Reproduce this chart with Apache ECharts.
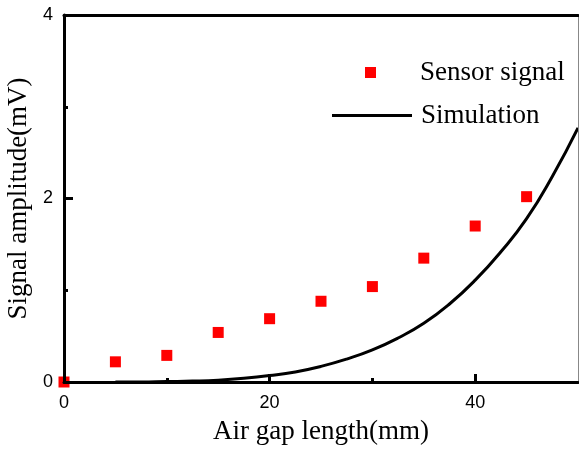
<!DOCTYPE html>
<html>
<head>
<meta charset="utf-8">
<script src="https://cdn.jsdelivr.net/npm/echarts@6/dist/echarts.min.js"></script>
<style>html,body{margin:0;padding:0;background:#fff}#c{width:579px;height:449px}</style>
</head>
<body>
<div id="c"></div>
<script>
var sensorX = [0, 5, 10, 15, 20, 25, 30, 35, 40, 45];
var sensorY = [0.0, 0.22, 0.29, 0.54, 0.69, 0.88, 1.04, 1.35, 1.70, 2.02];
var simX = [5, 7.5, 10, 12.5, 15, 17.5, 20, 22.5, 25, 27.5, 30, 32.5, 35, 37.5, 40, 42.5, 45, 47.5, 50];
var simY = [0.0, 0.0, 0.005, 0.01, 0.02, 0.04, 0.07, 0.11, 0.17, 0.25, 0.35, 0.48, 0.64, 0.85, 1.11, 1.42, 1.78, 2.24, 2.77];
var xMajorTicks = [0, 20, 40];
var xMinorTicks = [10, 30];

var serif = '"Liberation Serif", "Times New Roman", serif';
var sans = '"Liberation Sans", Arial, sans-serif';

var sensorData = sensorX.map(function (x, i) { return [x, sensorY[i]]; });
var simData = simX.map(function (x, i) { return [x, simY[i]]; });

var chart = echarts.init(document.getElementById('c'), null, {renderer: 'canvas'});
chart.setOption({
  animation: false,
  backgroundColor: '#fff',
  grid: {left: 64, right: 1, top: 15, bottom: 67, containLabel: false, outerBoundsMode: 'none'},
  legend: [{
    data: ['Sensor signal'],
    left: 365, top: 59, padding: 0,
    itemWidth: 11, itemHeight: 11,
    textStyle: {fontFamily: serif, fontSize: 27, color: '#000', padding: [0, 0, 0, 39]}
  }, {
    data: [{name: 'Simulation', icon: 'path://M0 0H80V3H0Z'}],
    left: 332, top: 102, padding: 0,
    itemWidth: 80, itemHeight: 3,
    textStyle: {fontFamily: serif, fontSize: 27, color: '#000', padding: [0, 0, 0, 4]}
  }],
  xAxis: [{
    type: 'value', position: 'bottom', min: 0, max: 50, z: 3,
    name: 'Air gap length(mm)', nameLocation: 'middle', nameGap: 36,
    nameTextStyle: {fontFamily: serif, fontSize: 27, color: '#000'},
    axisLine: {show: true, onZero: false, lineStyle: {color: '#000', width: 3}},
    axisTick: {show: true, inside: true, length: 8, lineStyle: {color: '#000', width: 3}, customValues: xMajorTicks},
    axisLabel: {show: true, margin: 12, fontFamily: sans, fontSize: 18, color: '#000', customValues: xMajorTicks},
    splitLine: {show: false}
  }, {
    type: 'value', position: 'bottom', min: 0, max: 50, z: 3,
    axisLine: {show: false, onZero: false},
    axisTick: {show: true, inside: true, length: 4, lineStyle: {color: '#000', width: 3}, customValues: xMinorTicks},
    axisLabel: {show: false},
    splitLine: {show: false}
  }, {
    type: 'value', position: 'top', min: 0, max: 50, z: 3,
    axisLine: {show: true, onZero: false, lineStyle: {color: '#000', width: 3}},
    axisTick: {show: false}, axisLabel: {show: false}, splitLine: {show: false}
  }],
  yAxis: [{
    type: 'value', position: 'left', min: 0, max: 4, interval: 2, z: 3,
    name: 'Signal amplitude(mV)', nameLocation: 'middle', nameGap: 31,
    nameTextStyle: {fontFamily: serif, fontSize: 27, color: '#000'},
    axisLine: {show: true, onZero: false, lineStyle: {color: '#000', width: 3}},
    axisTick: {show: true, inside: true, length: 9, lineStyle: {color: '#000', width: 3}},
    minorTick: {show: true, splitNumber: 2, length: 4, lineStyle: {color: '#000', width: 3}},
    axisLabel: {show: true, margin: 11, fontFamily: sans, fontSize: 18, color: '#000'},
    splitLine: {show: false}, minorSplitLine: {show: false}
  }, {
    type: 'value', position: 'right', min: 0, max: 4, interval: 2, z: 3,
    axisLine: {show: true, onZero: false, lineStyle: {color: '#888', width: 1}},
    axisTick: {show: false}, axisLabel: {show: false}, splitLine: {show: false}
  }],
  series: [{
    name: 'Sensor signal', type: 'scatter', xAxisIndex: 0, yAxisIndex: 0,
    symbol: 'rect', symbolSize: 11,
    itemStyle: {color: '#ff0000', opacity: 1},
    data: sensorData, z: 2
  }, {
    name: 'Simulation', type: 'line', xAxisIndex: 0, yAxisIndex: 0,
    smooth: true, showSymbol: false, symbol: 'none',
    lineStyle: {color: '#000', width: 3},
    itemStyle: {color: '#000'},
    data: simData, z: 2
  }]
});
</script>
</body>
</html>
